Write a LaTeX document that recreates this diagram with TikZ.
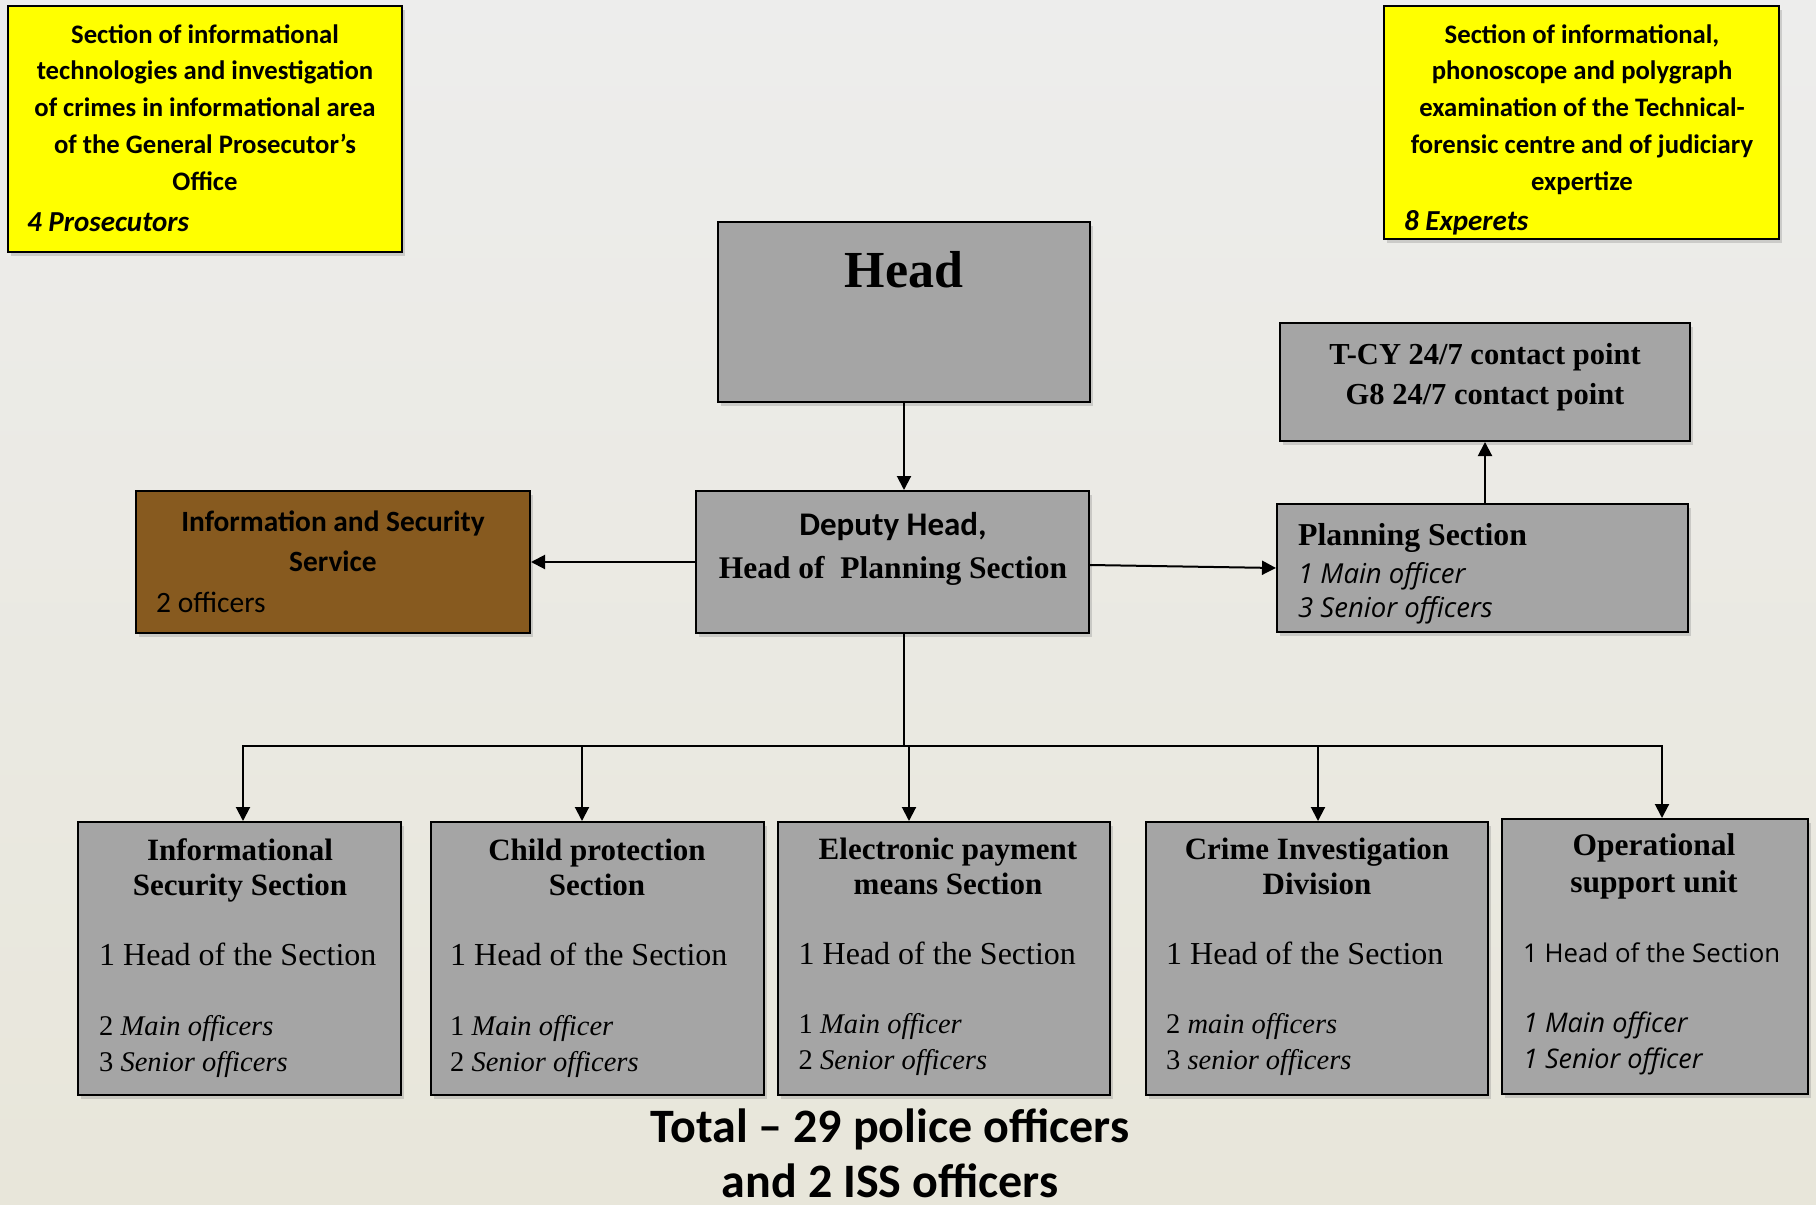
\documentclass[tikz,border=0pt]{standalone}
\usepackage{fontspec}
\setmainfont{Liberation Serif}
\newfontfamily\calfont{Carlito}
\newfontfamily\osfont{Open Sans}
\usetikzlibrary{arrows.meta,shadows,calc}
\definecolor{bgtop}{HTML}{EDEDEC}
\definecolor{bgbot}{HTML}{E8E6DA}
\definecolor{boxgray}{HTML}{A5A5A5}
\definecolor{ylw}{HTML}{FFFF00}
\definecolor{issbrown}{HTML}{875A1F}
\tikzset{
  box/.style={draw=black, line width=2pt, fill=boxgray, inner sep=0pt,
    drop shadow={shadow xshift=3pt, shadow yshift=-4pt, opacity=0.3}},
  ybox/.style={box, fill=ylw},
  bbox/.style={box, fill=issbrown},
  conn/.style={line width=2pt, line cap=rect},
  arr/.style={line width=2pt, -{Triangle[length=14pt,width=14pt]}},
  txt/.style={inner sep=0pt, align=center},
  ltxt/.style={inner sep=0pt, align=left},
  ytitle/.style={txt, anchor=north, font=\calfont\bfseries\fontsize{26.7}{36.8}\selectfont},
  ycount/.style={anchor=base west, inner sep=0pt, font=\calfont\bfseries\itshape\fontsize{29}{32}\selectfont},
  btitle/.style={txt, anchor=north, font=\bfseries\fontsize{31}{35}\selectfont},
  bhead/.style={anchor=base west, inner sep=0pt, font=\fontsize{32}{35}\selectfont},
  bital/.style={ltxt, anchor=north west, font=\fontsize{28.5}{36}\selectfont},
  sital/.style={ltxt, anchor=north west, font=\osfont\itshape\fontsize{27}{36}\selectfont},
  totalfont/.style={anchor=base, inner sep=0pt, font=\calfont\bfseries\fontsize{48}{55}\selectfont},
}
\begin{document}
\begin{tikzpicture}[x=1pt,y=-1pt]
\shade[top color=bgtop, bottom color=bgbot] (0,0) rectangle (1816,1205);
\useasboundingbox (0,0) rectangle (1816,1205);

% boxes
\node[ybox, minimum width=394pt, minimum height=246pt] (yl) at (205,129) {};
\node[ybox, minimum width=395pt, minimum height=233pt] (yr) at (1581.5,122.5) {};
\node[box, minimum width=372pt, minimum height=180pt] (head) at (904,312) {};
\node[box, minimum width=393pt, minimum height=142pt] (dep) at (892.5,562) {};
\node[box, minimum width=410pt, minimum height=118pt] (tcy) at (1485,382) {};
\node[box, minimum width=411pt, minimum height=128pt] (plan) at (1482.5,568) {};
\node[bbox, minimum width=394pt, minimum height=142pt] (iss) at (333,562) {};
\node[box, minimum width=323pt, minimum height=273pt] (b1) at (239.5,958.5) {};
\node[box, minimum width=333pt, minimum height=273pt] (b2) at (597.5,958.5) {};
\node[box, minimum width=332pt, minimum height=273pt] (b3) at (944,958.5) {};
\node[box, minimum width=342pt, minimum height=273pt] (b4) at (1317,958.5) {};
\node[box, minimum width=306pt, minimum height=275pt] (b5) at (1655,956.5) {};

% connectors
\draw[arr] (head.south) -- (head.south |- dep.north);
\draw[arr] (dep.west) -- (iss.east);
\draw[arr] ([yshift=-3pt]dep.east) -- (plan.west);
\draw[arr] (tcy.south |- plan.north) -- (tcy.south);
\coordinate (bus) at (904,746);
\coordinate (j1) at (243,746);
\coordinate (j2) at (582,746);
\coordinate (j3) at (909,746);
\coordinate (j4) at (1318,746);
\coordinate (j5) at (1662,746);
\draw[conn] (head.south |- dep.south) -- (bus);
\draw[conn] (j1) -- (j5);
\draw[arr] (j1) -- (j1 |- b1.north);
\draw[arr] (j2) -- (j2 |- b2.north);
\draw[arr] (j3) -- (j3 |- b3.north);
\draw[arr] (j4) -- (j4 |- b4.north);
\draw[arr] (j5) -- (j5 |- b5.north);

% yellow boxes text
\node[ytitle] (ylt) at (205,17.2) {\strut Section of informational\\technologies and investigation\\of crimes in informational area\\of the General Prosecutor’s\\Office};
\node[ycount] (ylc) at (27,231) {4 Prosecutors};
\node[ytitle] (yrt) at (1582,17.2) {\strut Section of informational,\\phonoscope and polygraph\\examination of the Technical-\\forensic centre and of judiciary\\expertize};
\node[ycount] (yrc) at (1404,230) {8 Experets};

% head / deputy
\node[anchor=base, inner sep=0pt, font=\bfseries\fontsize{52}{60}\selectfont] (headt) at (904,287) {Head};
\node[anchor=base, inner sep=0pt, font=\calfont\bfseries\fontsize{33}{36}\selectfont] (dept1) at (893,535) {Deputy Head,};
\node[anchor=base, inner sep=0pt, font=\bfseries\fontsize{31.5}{35}\selectfont] (dept2) at (893,578) {Head of\ \ Planning Section};

% contact point
\node[txt, anchor=north, font=\bfseries\fontsize{30.5}{40}\selectfont] (tcyt) at (1485,336) {\strut T-CY 24/7 contact point\\G8 24/7 contact point};

% planning
\node[anchor=base west, inner sep=0pt, font=\bfseries\fontsize{31.8}{35}\selectfont] (plant) at (1298,545) {Planning Section};
\node[sital, font=\osfont\itshape\fontsize{27.5}{34}\selectfont] (planc) at (1298,559.2) {\strut 1 Main officer\\3 Senior officers};

% ISS
\node[txt, anchor=north, font=\calfont\bfseries\fontsize{29.4}{40}\selectfont] (isst) at (333,503) {\strut Information and Security\\Service};
\node[anchor=base west, inner sep=0pt, font=\calfont\fontsize{29.5}{32}\selectfont] (issc) at (156,612) {2 officers};

% bottom boxes
\node[btitle] (b1t) at (240,835.5) {\strut Informational\\Security Section};
\node[bhead] (b1h) at (99,965) {1 Head of the Section};
\node[bital] (b1c) at (99,1009.8) {\strut 2 \textit{Main officers}\\3 \textit{Senior officers}};

\node[btitle] (b2t) at (597,835.5) {\strut Child protection\\Section};
\node[bhead] (b2h) at (450,965) {1 Head of the Section};
\node[bital] (b2c) at (450,1009.8) {\strut 1 \textit{Main officer}\\2 \textit{Senior officers}};

\node[btitle] (b3t) at (948,834.5) {\strut Electronic payment\\means Section};
\node[bhead] (b3h) at (798.5,964) {1 Head of the Section};
\node[bital] (b3c) at (798.5,1007.8) {\strut 1 \textit{Main officer}\\2 \textit{Senior officers}};

\node[btitle] (b4t) at (1317,834.5) {\strut Crime Investigation\\Division};
\node[bhead] (b4h) at (1166,964) {1 Head of the Section};
\node[bital] (b4c) at (1166,1007.8) {\strut 2 \textit{main officers}\\3 \textit{senior officers}};

\node[btitle, font=\bfseries\fontsize{31.5}{37}\selectfont] (b5t) at (1654,829.1) {\strut Operational\\support unit};
\node[anchor=base west, inner sep=0pt, font=\osfont\fontsize{25.8}{35}\selectfont] (b5h) at (1523,962) {1 Head of the Section};
\node[sital] (b5c) at (1523,1006.8) {\strut 1 Main officer\\1 Senior officer};

% total
\node[totalfont] (total1) at (890,1142) {Total – 29 police officers};
\node[totalfont] (total2) at (890,1197) {and 2 ISS officers};
\end{tikzpicture}
\end{document}
